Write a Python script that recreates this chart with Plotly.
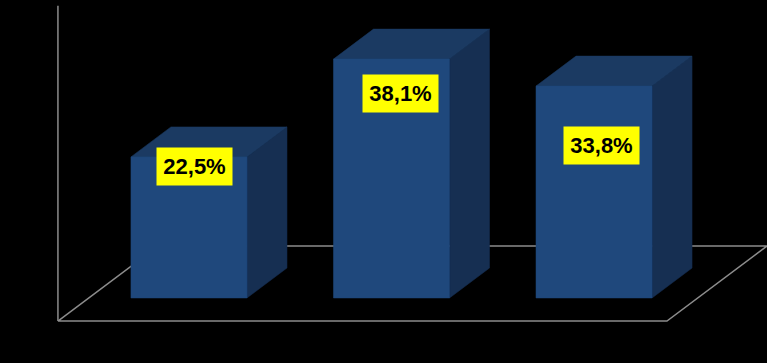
import plotly.graph_objects as go

# ---- data ----
categories = ["Cat 1", "Cat 2", "Cat 3"]
values = [22.5, 38.1, 33.8]
value_labels = ["22,5%", "38,1%", "33,8%"]
label_levels = [20.9, 32.6, 24.4]   # vertical placement of the yellow labels (value units)
label_shift = [0.025, 0.045, 0.035]  # horizontal nudge of labels (category units)

# ---- style / geometry ----
BAR_W = 0.573          # bar front width in category units
DX = 0.1975            # oblique depth offset (x) per unit depth
DV = 4.785             # oblique depth offset (value) per unit depth
FLOOR_D0, FLOOR_D1 = -0.77, 1.73   # floor depth extent (bar depth = 1)
AXIS_TOP = 46.6
FRONT = "#1F487C"
TOP = "#1B3A62"
SIDE = "#162F52"
GRID = "#8C8C8C"

def proj(x, v, d):
    return x + d * DX, v + d * DV

fig = go.Figure()

n = len(categories)
fx0 = -0.647 - FLOOR_D0 * DX
fx1 = (n - 1) + 0.360 - FLOOR_D0 * DX

pts = [proj(fx0, 0, FLOOR_D0), proj(fx1, 0, FLOOR_D0), proj(fx1, 0, FLOOR_D1),
       proj(fx0, 0, FLOOR_D1)]
floor_front_v = pts[0][1]
# floor outline
fig.add_trace(go.Scatter(x=[p[0] for p in pts] + [pts[0][0]],
                         y=[p[1] for p in pts] + [pts[0][1]],
                         mode="lines", line=dict(color=GRID, width=1.5),
                         hoverinfo="skip", showlegend=False))
# vertical axis line at front-left corner
fig.add_trace(go.Scatter(x=[pts[0][0], pts[0][0]], y=[floor_front_v, AXIS_TOP],
                         mode="lines", line=dict(color=GRID, width=1.5),
                         hoverinfo="skip", showlegend=False))

for i, v in enumerate(values):
    x0, x1 = i - BAR_W / 2, i + BAR_W / 2
    side = [proj(x1, 0, 0), proj(x1, 0, 1), proj(x1, v, 1), proj(x1, v, 0)]
    top = [proj(x0, v, 0), proj(x1, v, 0), proj(x1, v, 1), proj(x0, v, 1)]
    front = [proj(x0, 0, 0), proj(x1, 0, 0), proj(x1, v, 0), proj(x0, v, 0)]
    for poly, col in ((side, SIDE), (top, TOP), (front, FRONT)):
        fig.add_trace(go.Scatter(x=[p[0] for p in poly] + [poly[0][0]],
                                 y=[p[1] for p in poly] + [poly[0][1]],
                                 mode="lines", fill="toself", fillcolor=col,
                                 line=dict(color=col, width=0.5),
                                 hoverinfo="skip", showlegend=False))
    fig.add_annotation(x=i + label_shift[i], y=label_levels[i], text=value_labels[i],
                       showarrow=False, bgcolor="#FFFF00", width=67, height=29,
                       borderpad=4,
                       font=dict(family="Liberation Sans", size=22, color="black",
                                 weight="bold"))

fig.update_layout(
    width=767, height=363,
    margin=dict(l=0, r=0, t=0, b=0),
    paper_bgcolor="black", plot_bgcolor="black",
    xaxis=dict(range=[-0.933, 2.854], visible=False, fixedrange=True),
    yaxis=dict(range=[-10.37, 47.53], visible=False, fixedrange=True),
    showlegend=False,
)

fig.write_html("out.html", config={"displayModeBar": False},
               post_script="document.body.style.margin='0';document.body.style.background='black';")
